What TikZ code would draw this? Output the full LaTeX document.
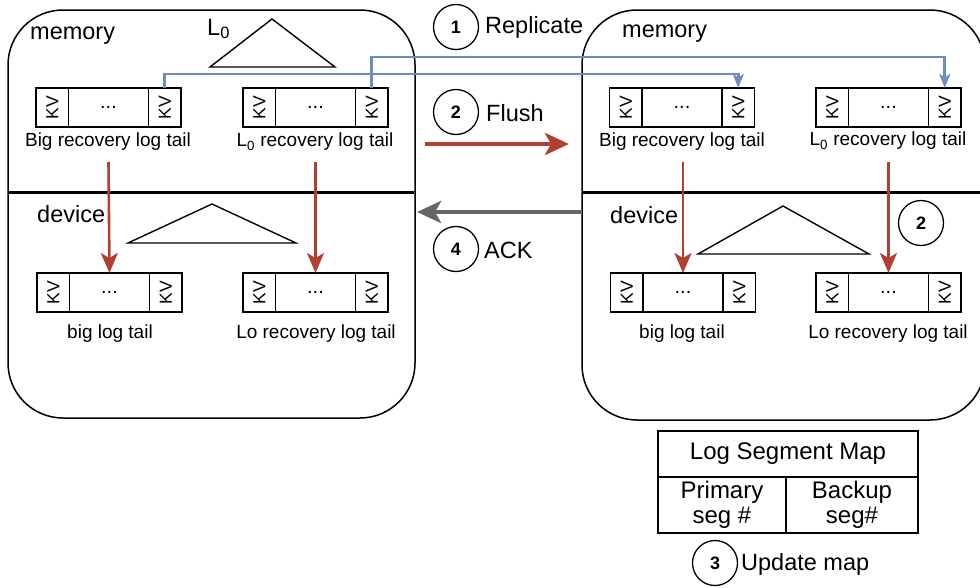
\documentclass[tikz,border=0pt]{standalone}
\usepackage{fontspec}
\setmainfont{Liberation Sans}
\usetikzlibrary{arrows.meta}

\definecolor{repblue}{HTML}{6C8EBF}
\definecolor{flushred}{HTML}{AE4132}
\definecolor{ackgray}{HTML}{666666}

% one log tail: KV | ... | KV, top-left corner at (#2,#3)
\newcommand\logtail[3]{%
  \node[kvcell, anchor=north west] (#1-l) at (#2,#3) {\rotatebox{90}{KV}};
  \node[midcell, anchor=north west] (#1-m) at (#1-l.north east) {...};
  \node[kvcell, anchor=north west] (#1-r) at (#1-m.north east) {\rotatebox{90}{KV}};
}

\begin{document}
\begin{tikzpicture}[x=1pt,y=-1pt,
  region/.style={draw, line width=1.5pt, rounded corners=55pt},
  divider/.style={line width=3pt},
  kvcell/.style={draw, line width=1.3pt, minimum width=32.5pt, minimum height=39pt,
    inner sep=0pt, outer sep=0pt, font=\fontsize{17.5}{17.5}\selectfont},
  midcell/.style={draw, line width=1.3pt, minimum width=80pt, minimum height=39pt,
    inner sep=0pt, outer sep=0pt, font=\fontsize{20}{20}\selectfont},
  biglabel/.style={font=\fontsize{23.5}{27}\selectfont, inner sep=0pt},
  label/.style={font=\fontsize{19}{22}\selectfont, inner sep=0pt},
  step num/.style={draw, circle, line width=1.3pt, minimum size=45pt, inner sep=0pt,
    font=\fontsize{18}{18}\selectfont\bfseries},
  tree/.style={draw, line width=1.4pt, line join=miter},
  repl/.style={draw=repblue, line width=2.6pt, -{Stealth[length=14pt, width=11pt, inset=3.5pt]}},
  flushdown/.style={draw=flushred, line width=2.6pt, -{Stealth[length=20pt, width=17pt, inset=5pt]}},
  flushwide/.style={draw=flushred, line width=4.5pt, -{Stealth[length=24pt, width=22pt, inset=6pt]}},
  ackwide/.style={draw=ackgray, line width=4.5pt, -{Stealth[length=24pt, width=22pt, inset=6pt]}},
  cell/.style={draw, line width=1.3pt, inner sep=0pt, outer sep=0pt, align=center,
    font=\fontsize{24}{28}\selectfont}
]
\useasboundingbox (0,0) rectangle (980,587);

% ---------------- primary node ----------------
\draw[region] (8,10) rectangle (415,418);
\draw[divider] (8.8,192) -- (414.2,192);
\node[biglabel, anchor=west] (memA) at (30,36) {memory};
\node[biglabel, anchor=west] (devA) at (37,214) {device};

% memory-resident L0 tree
\node[biglabel, anchor=west, fill=white, inner sep=2pt] (lzero) at (205,29) {L\textsubscript{0}};
\draw[tree] (272,19) -- (335,67) -- (210,67) -- cycle;
% on-device tree
\draw[tree] (212,204) -- (296,243) -- (128,243) -- cycle;

\logtail{ma1}{36}{88}
\logtail{ma2}{243}{88}
\node[label] (ma1t) at (108,142) {Big recovery log tail};
\node[label] (ma2t) at (315,142) {L\textsubscript{0} recovery log tail};

\logtail{da1}{37}{273}
\logtail{da2}{243}{273}
\node[label] (da1t) at (110,334) {big log tail};
\node[label] (da2t) at (316,334) {Lo recovery log tail};

\coordinate (fa1) at (ma1-m.center |- 0,162);
\coordinate (fa2) at (ma2-m.center |- 0,162);
\draw[flushdown] (fa1) -- (da1-m.north);
\draw[flushdown] (fa2) -- (da2-m.north);

% ---------------- backup node ----------------
\draw[region] (582,10) rectangle (985,420);
\draw[divider] (582.8,192) -- (980,192);
\node[biglabel, anchor=west] (memB) at (622,34) {memory};
\node[biglabel, anchor=west] (devB) at (610,215) {device};

\draw[tree] (783,206) -- (869,254) -- (698,254) -- cycle;

\logtail{mb1}{609.5}{88}
\logtail{mb2}{816}{88}
\node[label] (mb1t) at (682,142) {Big recovery log tail};
\node[label] (mb2t) at (888,141) {L\textsubscript{0} recovery log tail};

\logtail{db1}{610.5}{273}
\logtail{db2}{816}{273}
\node[label] (db1t) at (682,334) {big log tail};
\node[label] (db2t) at (888,334) {Lo recovery log tail};

\coordinate (fb1) at (db1-m.north |- 0,162);
\coordinate (fb2) at (db2-m.north |- 0,162);
\draw[flushdown] (fb1) -- (db1-m.north);
\draw[flushdown] (fb2) -- (db2-m.north);

\node[step num] (s2b) at (921,223) {2};

% ---------------- replication paths ----------------
\draw[repl] (ma1-r.north) -- ++(0,-14) -| (mb1-r.north);
\draw[repl] (ma2-r.north) -- ++(0,-31) -| (mb2-r.north);

% ---------------- steps between the nodes ----------------
\node[step num] (s1) at (456,27) {1};
\node[biglabel, anchor=west] (s1t) at (485,27) {Replicate};

\node[step num] (s2) at (456,112) {2};
\node[biglabel, anchor=west] (s2t) at (486,113) {Flush};

\coordinate (flushL) at (425,144);
\coordinate (flushR) at (569,144);
\draw[flushwide] (flushL) -- (flushR);

\coordinate (ackR) at (582,212);
\coordinate (ackL) at (417,212);
\draw[ackwide] (ackR) -- (ackL);

\node[step num] (s4) at (456,249) {4};
\node[biglabel, anchor=west] (s4t) at (484,250) {ACK};

% ---------------- segment map ----------------
\node[cell, minimum width=260pt, minimum height=46pt, anchor=north west] (maphead) at (658,431) {Log Segment Map};
\node[cell, minimum width=128pt, minimum height=56pt, anchor=north west] (mapprim) at (maphead.south west) {Primary\\[-3pt]seg \#};
\node[cell, minimum width=132pt, minimum height=56pt, anchor=north west] (mapback) at (mapprim.north east) {Backup\\[-3pt]seg\#};

\node[step num] (s3) at (715,563) {3};
\node[biglabel, anchor=west] (s3t) at (741,564) {Update map};
\end{tikzpicture}
\end{document}
